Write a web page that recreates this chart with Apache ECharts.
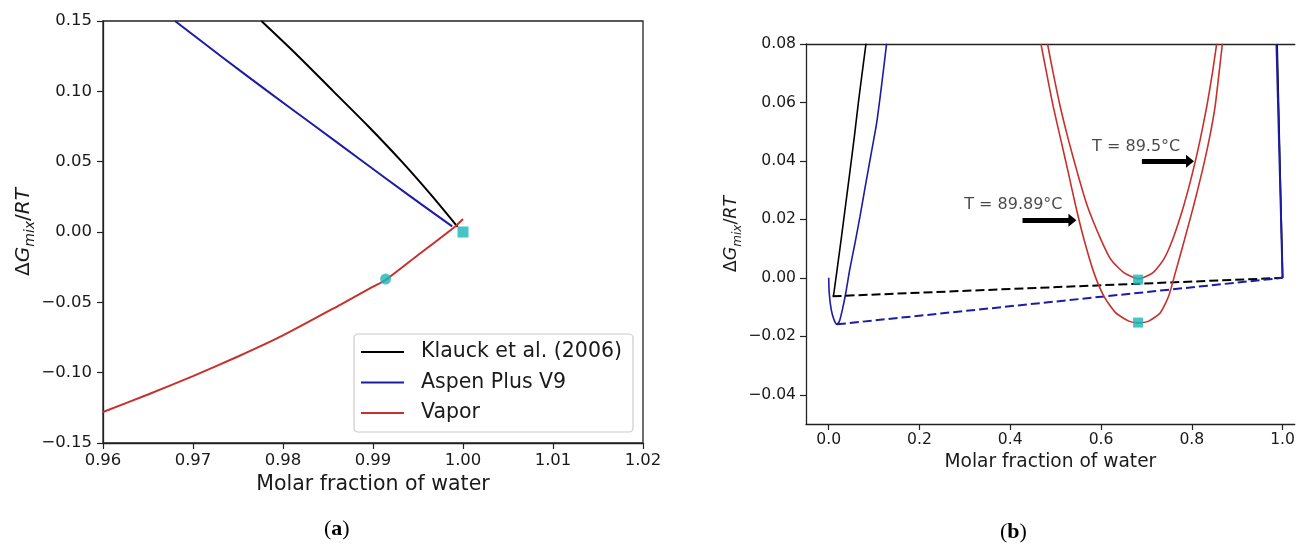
<!DOCTYPE html>
<html>
<head>
<meta charset="utf-8">
<script src="https://cdn.jsdelivr.net/npm/echarts@6/dist/echarts.min.js"></script>
<style>
html, body { margin: 0; padding: 0; background: #fff; }
#chart { width: 1298px; height: 547px; }
</style>
</head>
<body>
<div id="chart"></div>
<script>
// ---- panel (a) data ----
var klauckA = [[0.9776, 0.150], [0.9817, 0.125], [0.9856, 0.100], [0.9895, 0.075], [0.9932, 0.050], [0.9965, 0.026], [0.9994, 0.0036]];
var aspenA = [[0.9680, 0.150], [0.9730, 0.1255], [0.9782, 0.1005], [0.9835, 0.0755], [0.9888, 0.0505], [0.9940, 0.0260], [0.9988, 0.0040]];
var vaporA = [[0.960, -0.128], [0.965, -0.1155], [0.970, -0.1025], [0.975, -0.0885], [0.980, -0.0735], [0.9863, -0.0519], [0.990, -0.0389], [0.9914, -0.0341], [0.995, -0.0164], [0.9991, 0.0038], [1.000, 0.0093]];
var squareA = [[1.000, 0.000]];
var circleA = [[0.9914, -0.0335]];
var xTicksA = [0.96, 0.97, 0.98, 0.99, 1.00, 1.01, 1.02];
var yTicksA = [-0.15, -0.10, -0.05, 0.00, 0.05, 0.10, 0.15];

// ---- panel (b) data ----
var klauckB = [[0.0105, -0.0063], [0.0186, 0.0029], [0.0274, 0.0131], [0.0369, 0.0245], [0.0464, 0.0359], [0.0566, 0.0484], [0.0662, 0.0610], [0.0757, 0.0724], [0.0822, 0.0801]];
var klauckBRight = [[0.9880, 0.080], [1.000, 0.000]];
var aspenB = [[0.000, 0.000], [0.0011, -0.0051], [0.0055, -0.0108], [0.0114, -0.0142], [0.0180, -0.0159], [0.0237, -0.0148], [0.0303, -0.0108], [0.0377, -0.0051], [0.0464, 0.0029], [0.0581, 0.0120], [0.0691, 0.0211], [0.0800, 0.0308], [0.0925, 0.0416], [0.1057, 0.0530], [0.1167, 0.0661], [0.1276, 0.0801]];
var aspenBRight = [[0.9865, 0.080], [1.000, 0.000]];
var tangentK = [[0.0085, -0.0063], [1.000, 0.000]];
var tangentA = [[0.018, -0.0159], [1.000, 0.000]];
var vap8989 = [[0.4675, 0.0801], [0.480, 0.0701], [0.4945, 0.0587], [0.5113, 0.0473], [0.528, 0.0359], [0.5443, 0.0245], [0.5625, 0.0131], [0.5844, 0.0017], [0.6064, -0.0063], [0.632, -0.0119], [0.6612, -0.0148], [0.683, -0.0154],
    [0.705, -0.0148], [0.7307, -0.0119], [0.7489, -0.0063], [0.7636, 0.0017], [0.784, 0.0131], [0.8037, 0.0245], [0.822, 0.0359], [0.8382, 0.0473], [0.8513, 0.0587], [0.860, 0.0701], [0.8673, 0.0801]];
var vap895 = [[0.482, 0.0801], [0.4945, 0.0701], [0.5099, 0.0587], [0.528, 0.0473], [0.548, 0.0359], [0.570, 0.0245], [0.5998, 0.0131], [0.6217, 0.0063], [0.651, 0.0017], [0.683, -0.0003],
    [0.7138, 0.0017], [0.738, 0.0063], [0.7577, 0.0131], [0.7818, 0.0245], [0.8015, 0.0359], [0.8184, 0.0473], [0.833, 0.0587], [0.8454, 0.0701], [0.8548, 0.0801]];
var squaresB = [[0.6816, -0.0006], [0.6816, -0.0153]];
var notesB = [[0.4068, 0.0251, 'T = 89.89°C'], [0.6774, 0.0448, 'T = 89.5°C']];
var arrowsB = [[[0.427, 0.0197], [0.537, 0.0197]], [[0.690, 0.0399], [0.796, 0.0399]]];
var xTicksB = [0.0, 0.2, 0.4, 0.6, 0.8, 1.0];
var yTicksB = [-0.04, -0.02, 0.00, 0.02, 0.04, 0.06, 0.08];

var FONT = 'DejaVu Sans';
var CYAN = '#17b8b8';
var RED = '#c8302c';
var BLUE = '#1c1ca6';
var INK = '#1a1a1a';

function fmt(d) {
    return function (v) {
        if (Math.abs(v) < 1e-9) v = 0;
        return v.toFixed(d).replace('-', '\u2212');
    };
}

function yName(size, sub) {
    return {
        fontFamily: FONT, color: INK,
        rich: {
            n: {fontFamily: FONT, fontSize: size, lineHeight: size + 8, color: INK},
            i: {fontFamily: FONT, fontSize: size, fontStyle: 'italic', lineHeight: size + 8, color: INK},
            s: {fontFamily: FONT, fontSize: sub, fontStyle: 'italic', lineHeight: sub + 2, verticalAlign: 'bottom', color: INK}
        }
    };
}

function valueAxis(idx, min, max, ticks, dec, fs, margin, name, nameGap, nameStyle, isY) {
    return {
        type: 'value', gridIndex: idx, min: min, max: max,
        name: name, nameLocation: 'middle', nameGap: nameGap,
        nameRotate: isY ? 90 : 0,
        nameTextStyle: nameStyle,
        axisLine: {show: true, onZero: false, lineStyle: {color: '#222', width: 1.3}},
        axisTick: {show: true, length: 6, inside: false, customValues: ticks, lineStyle: {color: '#222', width: 1.2}},
        axisLabel: {show: true, customValues: ticks, formatter: fmt(dec), margin: margin,
            fontFamily: FONT, fontSize: fs, color: INK},
        splitLine: {show: false}
    };
}

function curveB(name, data, color, width, smooth) {
    return {name: name, type: 'line', xAxisIndex: 1, yAxisIndex: 1, data: data,
        symbol: 'none', smooth: smooth, lineStyle: {color: color, width: width}};
}

var xMaxB = -0.05 + 491 / 456;

var myChart = echarts.init(document.getElementById('chart'));
var option = {
    backgroundColor: '#fff',
    animation: false,
    grid: [
        {left: 103, top: 21, width: 540, height: 422, show: true, borderColor: '#222', borderWidth: 1.3},
        {left: 806, top: 44, width: 491, height: 380, show: false}
    ],
    xAxis: [
        valueAxis(0, 0.96, 1.02, xTicksA, 2, 16.5, 9, 'Molar fraction of water', 31,
            {fontFamily: FONT, fontSize: 20.5, color: INK}, false),
        valueAxis(1, -0.05, xMaxB, xTicksB, 1, 15.6, 8, 'Molar fraction of water', 28,
            {fontFamily: FONT, fontSize: 18.6, color: INK}, false),
        {type: 'value', gridIndex: 1, position: 'top', min: -0.05, max: xMaxB,
            axisLine: {show: true, onZero: false, lineStyle: {color: '#222', width: 1.3}},
            axisTick: {show: false}, axisLabel: {show: false}, splitLine: {show: false}}
    ],
    yAxis: [
        valueAxis(0, -0.15, 0.15, yTicksA, 2, 16.5, 11, '{n|Δ}{i|G}{s|mix}{n|/}{i|RT}', 64, yName(20, 14), true),
        valueAxis(1, -0.05, 0.08, yTicksB, 2, 15.6, 10, '{n|Δ}{i|G}{s|mix}{n|/}{i|RT}', 61, yName(17.5, 12), true)
    ],
    legend: {
        data: ['Klauck et al. (2006)', 'Aspen Plus V9', 'Vapor'],
        orient: 'vertical',
        left: 354, top: 334,
        icon: 'rect',
        itemWidth: 43, itemHeight: 2, itemGap: 6.5,
        padding: [6, 11, 7, 7],
        backgroundColor: 'rgba(255,255,255,0.8)',
        borderColor: '#cccccc', borderWidth: 1.2, borderRadius: 4,
        textStyle: {fontFamily: FONT, fontSize: 20.5, color: INK, lineHeight: 24, padding: [0, 0, 0, 12]}
    },
    series: [
        {name: 'Klauck et al. (2006)', type: 'line', xAxisIndex: 0, yAxisIndex: 0, data: klauckA,
            symbol: 'none', smooth: 0.3, color: '#000', lineStyle: {color: '#000', width: 2}},
        {name: 'Aspen Plus V9', type: 'line', xAxisIndex: 0, yAxisIndex: 0, data: aspenA,
            symbol: 'none', smooth: 0.3, color: BLUE, lineStyle: {color: BLUE, width: 2}},
        {name: 'Vapor', type: 'line', xAxisIndex: 0, yAxisIndex: 0, data: vaporA,
            symbol: 'none', smooth: 0.2, color: RED, lineStyle: {color: RED, width: 2}},
        {name: 'ptA1', type: 'scatter', xAxisIndex: 0, yAxisIndex: 0, data: squareA,
            symbol: 'rect', symbolSize: 11, itemStyle: {color: CYAN}, z: 5},
        {name: 'ptA2', type: 'scatter', xAxisIndex: 0, yAxisIndex: 0, data: circleA,
            symbol: 'circle', symbolSize: 11, itemStyle: {color: CYAN}, z: 5},

        curveB('kB', klauckB, '#000', 1.6, 0.2),
        curveB('kB2', klauckBRight, '#000', 1.6, false),
        curveB('aB', aspenB, BLUE, 1.6, 0.2),
        curveB('aB2', aspenBRight, BLUE, 2, false),
        {name: 'tK', type: 'line', xAxisIndex: 1, yAxisIndex: 1, data: tangentK,
            symbol: 'none', lineStyle: {color: '#000', width: 2, type: [9, 4]}},
        {name: 'tA', type: 'line', xAxisIndex: 1, yAxisIndex: 1, data: tangentA,
            symbol: 'none', lineStyle: {color: BLUE, width: 2, type: [9, 4]}},
        curveB('v8989', vap8989, RED, 1.6, 0.2),
        curveB('v895', vap895, RED, 1.6, 0.2),
        {name: 'sqB', type: 'scatter', xAxisIndex: 1, yAxisIndex: 1, data: squaresB,
            symbol: 'rect', symbolSize: 10, itemStyle: {color: CYAN}, z: 5},
        {name: 'notes', type: 'scatter', xAxisIndex: 1, yAxisIndex: 1, data: notesB,
            symbolSize: 1, itemStyle: {color: 'rgba(0,0,0,0)'},
            label: {show: true, position: 'inside', formatter: function (p) { return p.data[2]; },
                fontFamily: FONT, fontSize: 16, color: INK},
            markLine: {
                silent: true, symbol: ['none', 'triangle'], symbolSize: [13, 8],
                label: {show: false},
                lineStyle: {color: '#000', width: 5, type: 'solid'},
                data: arrowsB.map(function (a) {
                    return [{coord: a[0]}, {coord: a[1]}];
                })
            }}
    ],
    graphic: [
        {type: 'text', left: 324, top: 518, style: {text: '{p|(}{b|a}{p|)}',
            rich: {p: {fontFamily: 'Liberation Serif', fontSize: 22, fill: '#000'},
                   b: {fontFamily: 'Liberation Serif', fontSize: 22, fontWeight: 'bold', fill: '#000'}}}},
        {type: 'text', left: 1000, top: 521, style: {text: '{p|(}{b|b}{p|)}',
            rich: {p: {fontFamily: 'Liberation Serif', fontSize: 22, fill: '#000'},
                   b: {fontFamily: 'Liberation Serif', fontSize: 22, fontWeight: 'bold', fill: '#000'}}}}
    ]
};
myChart.setOption(option);
</script>
</body>
</html>
